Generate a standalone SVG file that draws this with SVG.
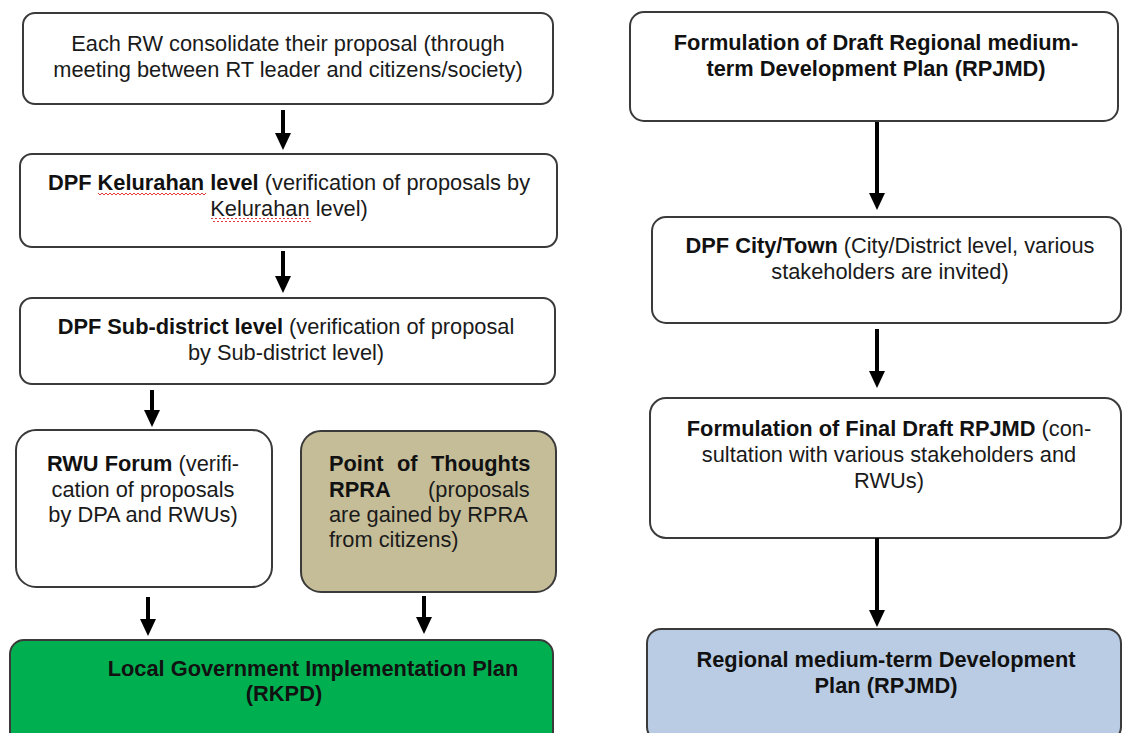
<svg xmlns="http://www.w3.org/2000/svg" width="1122" height="733" viewBox="0 0 1122 733">
  <style>
    .box { fill: #ffffff; stroke: #3a3a3a; stroke-width: 2; }
    .rkpd { fill: #00b050; }
    .rpra { fill: #c5bd98; }
    .rpjmd { fill: #b9cce4; }
    text { font-family: "Liberation Sans", Arial, sans-serif; font-size: 21.8px; fill: #1a1a1a; }
    .c { text-anchor: middle; }
    .b { font-weight: bold; fill: #111111; }
    .flow { stroke: #000000; stroke-width: 4; fill: none; marker-end: url(#head); }
  </style>
  <defs>
    <marker id="head" viewBox="0 0 17 16" refX="11" refY="8" markerWidth="17" markerHeight="16" markerUnits="userSpaceOnUse" orient="auto">
      <path d="M0,0 L17,8 L0,16 Z" fill="#000000"/>
    </marker>
    <!-- wavy underline used for the spell-check marks -->
    <pattern id="squiggle" x="0" y="0" width="4" height="4" patternUnits="userSpaceOnUse">
      <polyline points="0,3 2,1 4,3" fill="none" stroke="#e03a3a" stroke-width="1"/>
    </pattern>
  </defs>
  <rect width="1122" height="733" fill="#ffffff"/>

  <!-- left column: RKPD process -->
  <g id="rw-consolidate">
    <rect class="box" x="23" y="13" width="530" height="91" rx="12"/>
    <text class="c" x="288" y="51">Each RW consolidate their proposal (through</text>
    <text class="c" x="288" y="77">meeting between RT leader and citizens/society)</text>
  </g>

  <g id="dpf-kelurahan">
    <rect class="box" x="20" y="154" width="537" height="93" rx="12"/>
    <text class="c" x="289" y="190"><tspan class="b">DPF Kelurahan level</tspan> (verification of proposals by</text>
    <text class="c" x="289" y="216">Kelurahan level)</text>
    <rect x="98" y="191" width="108" height="4" fill="url(#squiggle)"/>
    <rect x="211" y="218" width="100" height="4" fill="url(#squiggle)"/>
  </g>

  <g id="dpf-subdistrict">
    <rect class="box" x="20" y="298" width="535" height="86" rx="12"/>
    <text class="c" x="286" y="334"><tspan class="b">DPF Sub-district level</tspan> (verification of proposal</text>
    <text class="c" x="286" y="360">by Sub-district level)</text>
  </g>

  <g id="rwu-forum">
    <rect class="box" x="16" y="430" width="256" height="157" rx="20"/>
    <text class="c" x="143" y="471"><tspan class="b">RWU Forum</tspan> (verifi-</text>
    <text class="c" x="143" y="497">cation of proposals</text>
    <text class="c" x="143" y="522">by DPA and RWUs)</text>
  </g>

  <g id="rpra">
    <rect class="box rpra" x="301" y="431" width="255" height="161" rx="20"/>
    <text class="b" y="471"><tspan x="329">Point</tspan><tspan x="397">of</tspan><tspan x="431">Thoughts</tspan></text>
    <text y="497"><tspan class="b" x="329">RPRA</tspan><tspan x="428">(proposals</tspan></text>
    <text x="329" y="522">are gained by RPRA</text>
    <text x="329" y="547">from citizens)</text>
  </g>

  <g id="rkpd">
    <rect class="box rkpd" x="10" y="640" width="543" height="112" rx="14"/>
    <text class="b" x="313" y="676" text-anchor="middle">Local Government Implementation Plan</text>
    <text class="b" x="284" y="701" text-anchor="middle">(RKPD)</text>
  </g>

  <!-- right column: RPJMD process -->
  <g id="draft-rpjmd">
    <rect class="box" x="630" y="12" width="488" height="109" rx="14"/>
    <text class="c b" x="876" y="50">Formulation of Draft Regional medium-</text>
    <text class="c b" x="876" y="76">term Development Plan (RPJMD)</text>
  </g>

  <g id="dpf-city">
    <rect class="box" x="652" y="217" width="469" height="106" rx="14"/>
    <text class="c" x="890" y="253"><tspan class="b">DPF City/Town</tspan> (City/District level, various</text>
    <text class="c" x="890" y="279">stakeholders are invited)</text>
  </g>

  <g id="final-draft">
    <rect class="box" x="650" y="398" width="471" height="140" rx="16"/>
    <text class="c" x="889" y="436"><tspan class="b">Formulation of Final Draft RPJMD</tspan> (con-</text>
    <text class="c" x="889" y="462">sultation with various stakeholders and</text>
    <text class="c" x="889" y="488">RWUs)</text>
  </g>

  <g id="rpjmd">
    <rect class="box rpjmd" x="647" y="629" width="474" height="112" rx="14"/>
    <text class="c b" x="886" y="667">Regional medium-term Development</text>
    <text class="c b" x="886" y="693">Plan (RPJMD)</text>
  </g>

  <g id="connectors">
    <line class="flow" x1="283" y1="110" x2="283" y2="144"/>
    <line class="flow" x1="283" y1="251" x2="283" y2="287"/>
    <line class="flow" x1="152" y1="390" x2="152" y2="421"/>
    <line class="flow" x1="148" y1="597" x2="148" y2="630"/>
    <line class="flow" x1="424" y1="596" x2="424" y2="628"/>
    <line class="flow" x1="877" y1="122" x2="877" y2="204"/>
    <line class="flow" x1="877" y1="329" x2="877" y2="382"/>
    <line class="flow" x1="877" y1="538" x2="877" y2="621"/>
  </g>
</svg>
